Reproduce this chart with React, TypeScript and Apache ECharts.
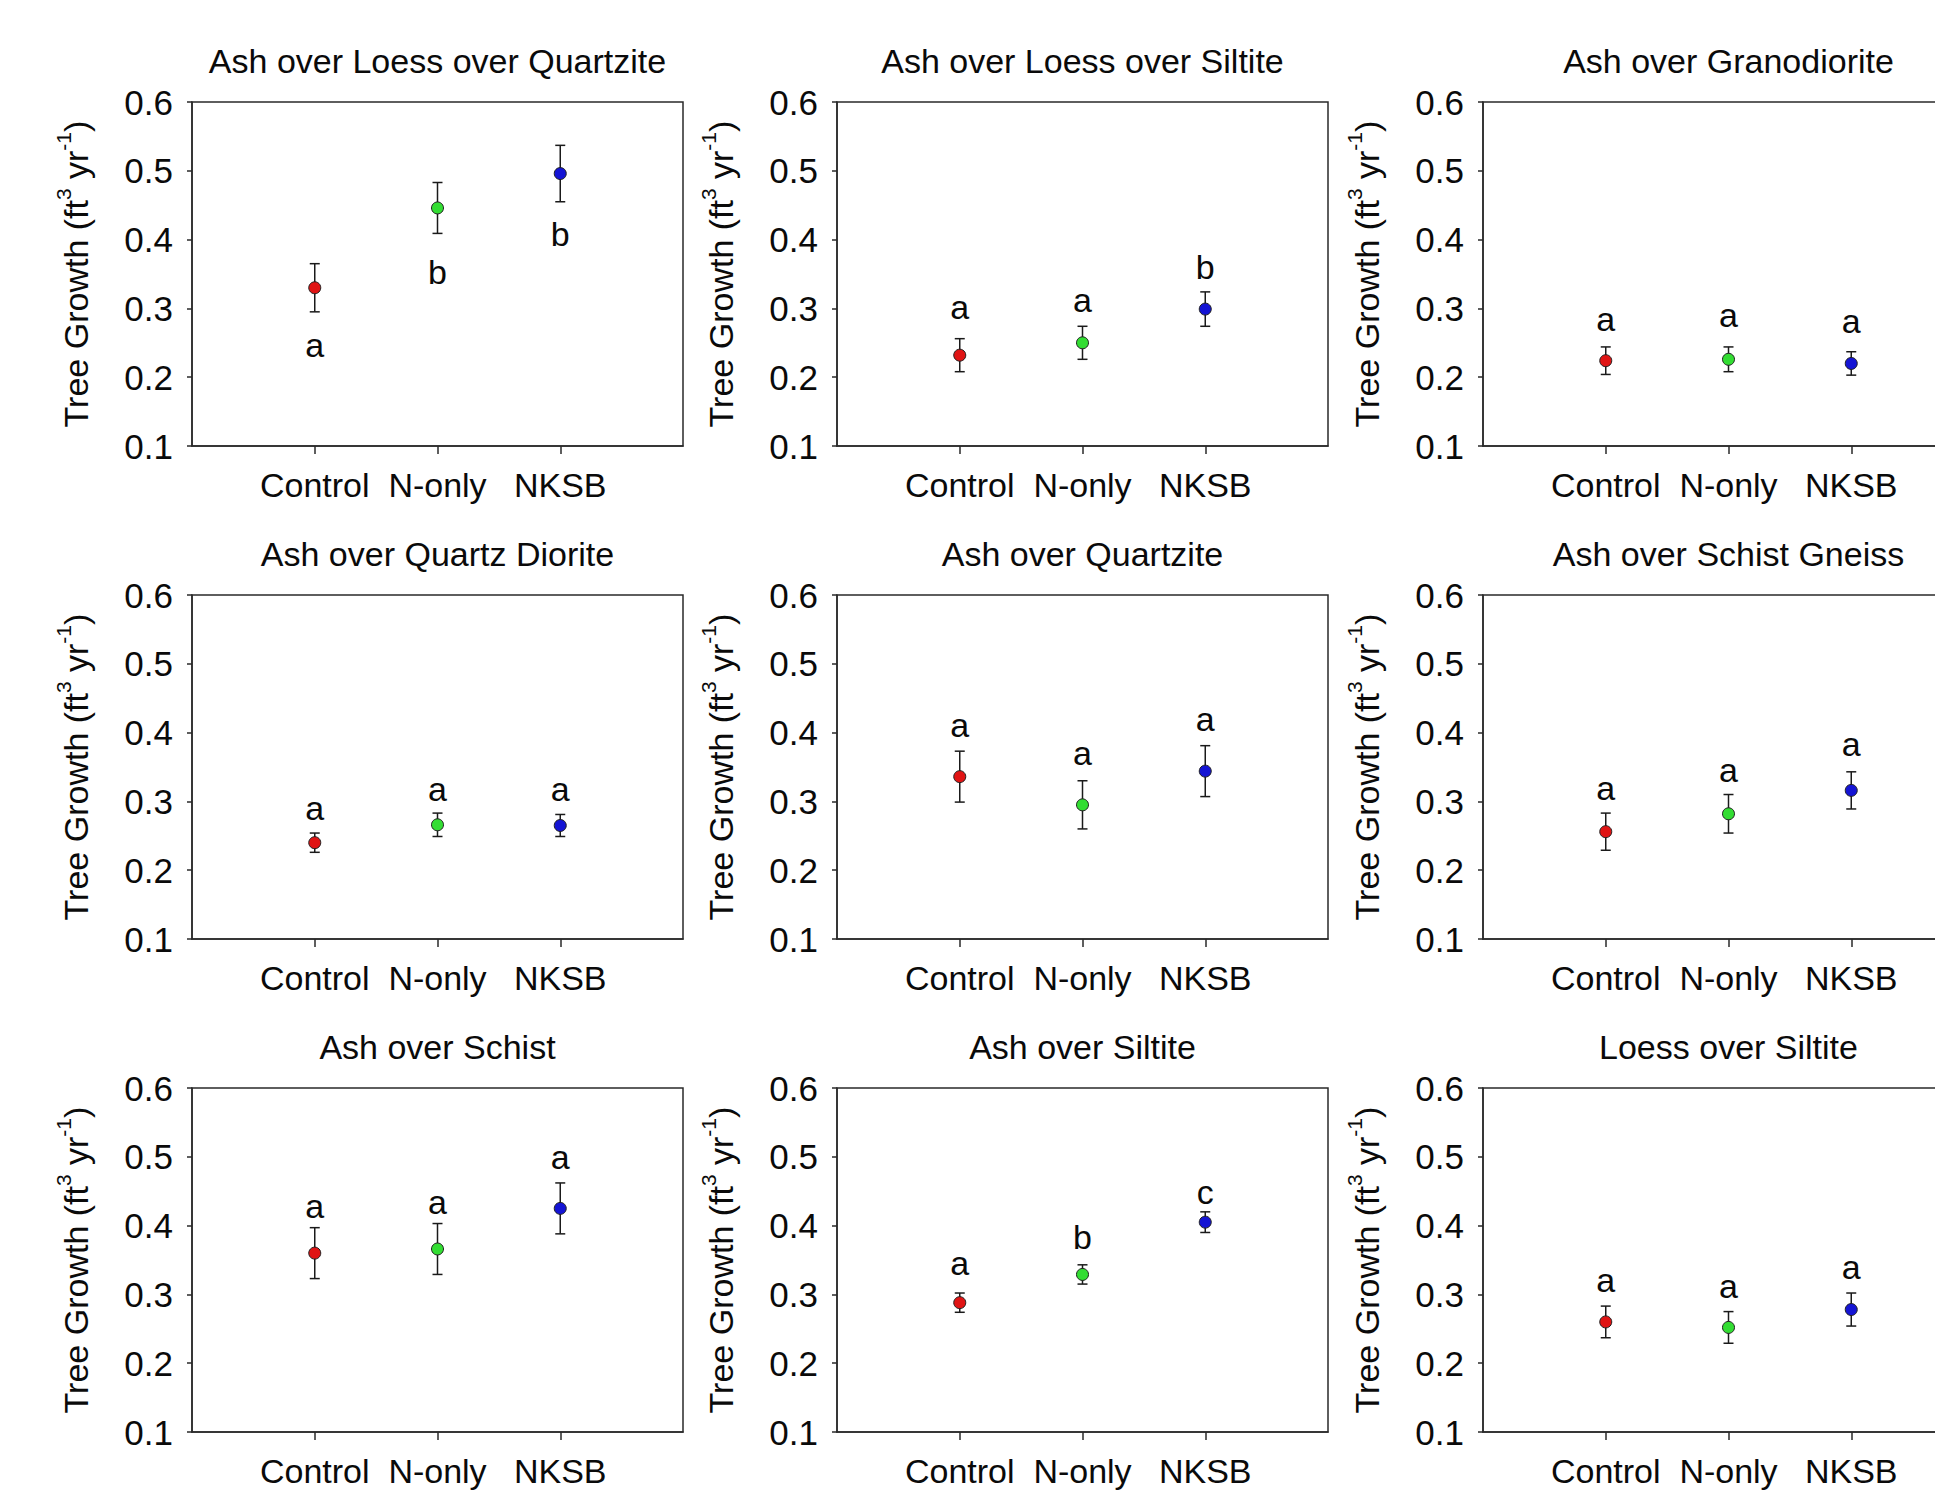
import React, { useEffect, useRef } from "react";
import * as echarts from "echarts";

const categories = ["Control", "N-only", "NKSB"];
const axisCategories = ["", "Control", "N-only", "NKSB", ""];
const yTicks = [0.1, 0.2, 0.3, 0.4, 0.5, 0.6];

const titles = [
  "Ash over Loess over Quartzite",
  "Ash over Loess over Siltite",
  "Ash over Granodiorite",
  "Ash over Quartz Diorite",
  "Ash over Quartzite",
  "Ash over Schist Gneiss",
  "Ash over Schist",
  "Ash over Siltite",
  "Loess over Siltite",
];

const means = [
  [0.330, 0.446, 0.496],
  [0.232, 0.250, 0.299],
  [0.224, 0.226, 0.220],
  [0.240, 0.266, 0.265],
  [0.336, 0.295, 0.344],
  [0.256, 0.282, 0.316],
  [0.360, 0.366, 0.425],
  [0.288, 0.329, 0.405],
  [0.260, 0.252, 0.278],
];

const errors = [
  [0.035, 0.037, 0.041],
  [0.024, 0.024, 0.025],
  [0.020, 0.018, 0.017],
  [0.014, 0.017, 0.016],
  [0.037, 0.035, 0.037],
  [0.027, 0.028, 0.027],
  [0.037, 0.037, 0.037],
  [0.014, 0.014, 0.015],
  [0.023, 0.023, 0.024],
];

const letters = [
  ["a", "b", "b"],
  ["a", "a", "b"],
  ["a", "a", "a"],
  ["a", "a", "a"],
  ["a", "a", "a"],
  ["a", "a", "a"],
  ["a", "a", "a"],
  ["a", "b", "c"],
  ["a", "a", "a"],
];

const letterY = [
  [0.247, 0.353, 0.408],
  [0.302, 0.312, 0.360],
  [0.284, 0.290, 0.281],
  [0.291, 0.318, 0.318],
  [0.411, 0.371, 0.420],
  [0.319, 0.346, 0.383],
  [0.428, 0.434, 0.499],
  [0.346, 0.384, 0.449],
  [0.321, 0.312, 0.340],
];

const markerColors = ["#e01414", "#33dd33", "#1414d4"];

const FONT = '"Liberation Sans", Arial, sans-serif';
const FS = 34;
const TICK_FS = 35;
const TEXT = "#0a0a0a";
const LINE = "#2a2a2a";

const colLeft = [192, 837, 1483];
const rowTop = [102, 595, 1088];
const plotW = 491;
const plotH = 344;

export default function App() {
  const ref = useRef<HTMLDivElement>(null);

  useEffect(() => {
    if (!ref.current) return;
    document.body.style.overflow = "hidden";
    const chart = echarts.init(ref.current, undefined, { renderer: "svg" });

    const grids: any[] = [];
    const xAxes: any[] = [];
    const yAxes: any[] = [];
    const series: any[] = [];
    const graphics: any[] = [];

    titles.forEach((title, i) => {
      const r = Math.floor(i / 3);
      const c = i % 3;
      const left = colLeft[c];
      const top = rowTop[r];
      grids.push({
        left,
        top,
        width: plotW,
        height: plotH,
        show: true,
        borderColor: LINE,
        borderWidth: 1.5,
        backgroundColor: "transparent",
        containLabel: false,
      });
      xAxes.push({
        type: "category",
        gridIndex: i,
        data: axisCategories,
        boundaryGap: false,
        axisLine: { show: true, lineStyle: { color: LINE, width: 1.5 } },
        axisTick: {
          show: true,
          inside: false,
          length: 8,
          interval: (idx: number) => idx >= 1 && idx <= categories.length,
          lineStyle: { color: LINE, width: 1.5 },
        },
        axisLabel: {
          show: true,
          interval: 0,
          margin: 22,
          fontSize: FS,
          fontFamily: FONT,
          color: TEXT,
        },
        splitLine: { show: false },
      });
      yAxes.push({
        type: "value",
        gridIndex: i,
        min: yTicks[0],
        max: yTicks[yTicks.length - 1],
        interval: 0.1,
        axisLine: { show: true, lineStyle: { color: LINE, width: 1.5 } },
        axisTick: { show: true, inside: false, length: 5, lineStyle: { color: LINE, width: 1.5 } },
        axisLabel: {
          margin: 19,
          fontSize: TICK_FS,
          fontFamily: FONT,
          color: TEXT,
          formatter: (v: number) => v.toFixed(1),
        },
        splitLine: { show: false },
        name: "Tree Growth (ft{sup|3} yr{sup|-1})",
        nameLocation: "middle",
        nameRotate: 90,
        nameGap: 93,
        nameTextStyle: {
          fontSize: FS,
          fontFamily: FONT,
          color: TEXT,
          lineHeight: 46,
          rich: {
            sup: { fontSize: 21, fontFamily: FONT, color: TEXT, lineHeight: 21, verticalAlign: "top" },
          },
        },
      });

      graphics.push({
        type: "text",
        x: left + plotW / 2,
        y: top - 41,
        style: {
          text: title,
          fontSize: FS,
          fontFamily: FONT,
          fill: TEXT,
          align: "center",
          verticalAlign: "middle",
        },
      });

      series.push({
        type: "custom",
        xAxisIndex: i,
        yAxisIndex: i,
        z: 2,
        silent: true,
        encode: { x: 0, y: 1 },
        data: categories.map((_, k) => [k + 1, means[i][k], errors[i][k]]),
        renderItem: (params: any, api: any) => {
          const x = api.value(0);
          const m = api.value(1);
          const e = api.value(2);
          const pt = api.coord([x, m + e]);
          const pb = api.coord([x, m - e]);
          const hw = 5;
          const st = { stroke: "#1a1a1a", lineWidth: 1.5 };
          return {
            type: "group",
            children: [
              { type: "line", shape: { x1: pt[0], y1: pt[1], x2: pb[0], y2: pb[1] }, style: st },
              { type: "line", shape: { x1: pt[0] - hw, y1: pt[1], x2: pt[0] + hw, y2: pt[1] }, style: st },
              { type: "line", shape: { x1: pb[0] - hw, y1: pb[1], x2: pb[0] + hw, y2: pb[1] }, style: st },
            ],
          };
        },
      });

      series.push({
        type: "scatter",
        xAxisIndex: i,
        yAxisIndex: i,
        z: 3,
        silent: true,
        symbol: "circle",
        symbolSize: 12,
        data: categories.map((_, k) => ({
          value: [k + 1, means[i][k]],
          itemStyle: { color: markerColors[k], borderColor: "#202020", borderWidth: 1, opacity: 1 },
        })),
      });

      series.push({
        type: "custom",
        xAxisIndex: i,
        yAxisIndex: i,
        z: 4,
        silent: true,
        encode: { x: 0, y: 1 },
        data: categories.map((_, k) => [k + 1, letterY[i][k], k]),
        renderItem: (params: any, api: any) => {
          const p = api.coord([api.value(0), api.value(1)]);
          const k = api.value(2);
          return {
            type: "text",
            x: p[0],
            y: p[1],
            style: {
              text: letters[i][k],
              fontSize: FS,
              fontFamily: FONT,
              fill: TEXT,
              align: "center",
              verticalAlign: "middle",
            },
          };
        },
      });
    });

    chart.setOption({
      animation: false,
      backgroundColor: "#ffffff",
      grid: grids,
      xAxis: xAxes,
      yAxis: yAxes,
      series,
      graphic: graphics,
    });

    return () => {
      chart.dispose();
    };
  }, []);

  return (
    <div style={{ position: "absolute", left: 0, top: 0, width: 1935, height: 1495, overflow: "hidden", background: "#fff" }}>
      <div ref={ref} style={{ width: 2010, height: 1495 }} />
    </div>
  );
}
